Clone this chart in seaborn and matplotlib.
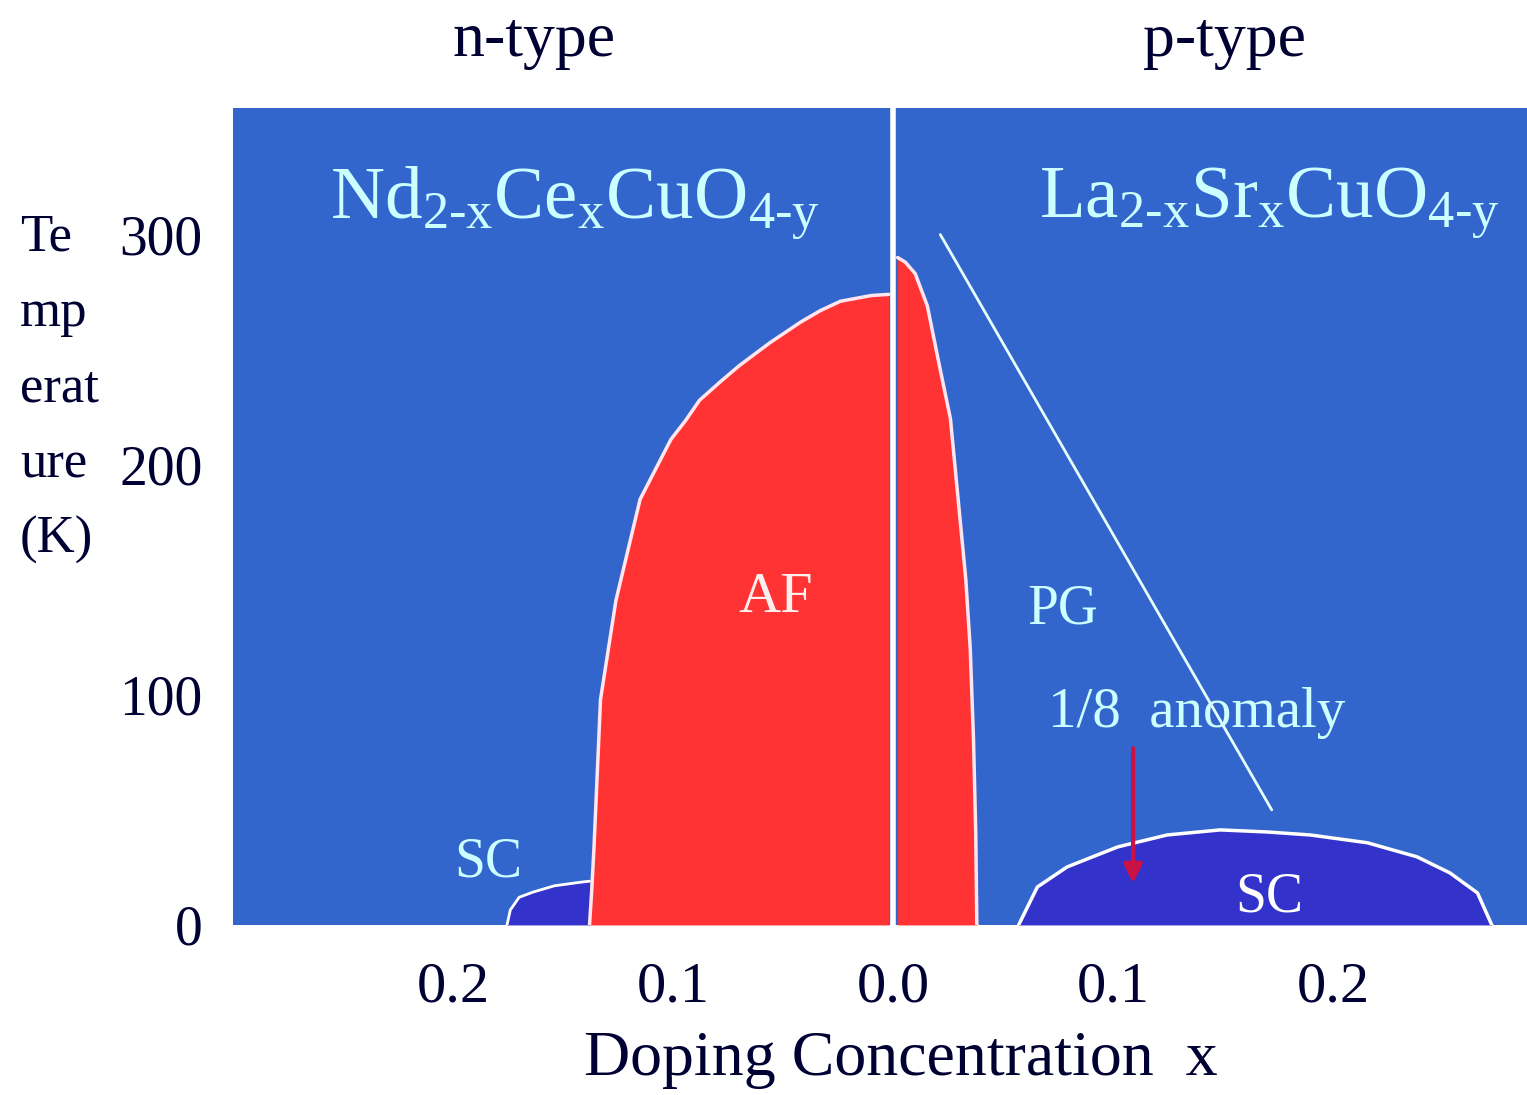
import numpy as np
import pandas as pd
import matplotlib
matplotlib.use("Agg")
import matplotlib.pyplot as plt
import seaborn as sns

# n-type side uses negative x, p-type side positive x
af_n_x = [-0.138, -0.137, -0.136, -0.133, -0.126, -0.115, -0.108, -0.101, -0.0945, -0.088,
          -0.0786, -0.070, -0.056, -0.042, -0.033, -0.024, -0.010, -0.002]
af_n_T = [0, 15, 33, 98, 141, 185, 198, 211, 219, 228,
          236, 243, 253, 262, 267, 271, 273.5, 274]

af_p_x = [0.002, 0.0055, 0.010, 0.0155, 0.021, 0.026, 0.030, 0.033, 0.035, 0.0365, 0.0375, 0.038]
af_p_T = [290, 288, 283, 269, 243, 220, 180, 150, 120, 80, 40, 0]

sc_n_x = [-0.1755, -0.174, -0.170, -0.1636, -0.154, -0.141, -0.138]
sc_n_T = [0, 6.5, 12, 14.3, 17, 18.7, 19]

sc_p_x = [0.057, 0.0655, 0.079, 0.102, 0.1245, 0.1486, 0.170, 0.1895, 0.2155, 0.238, 0.253, 0.2655, 0.272]
sc_p_T = [0, 16.5, 25.2, 33.9, 39.1, 41.3, 40.4, 39.1, 35.7, 29.6, 22.6, 13.9, 0]

pg_x = [0.0214, 0.172]
pg_T = [300, 50]

arrow_x = 0.109
arrow_T = [78, 17]

x_ticks = [-0.2, -0.1, 0.0, 0.1, 0.2]
x_ticklabels = ["0.2", "0.1", "0.0", "0.1", "0.2"]
y_ticks = [0, 100, 200, 300]

BLUE = "#3366cc"
RED = "#ff3333"
DARK = "#3333cc"
CYAN = "#ccffff"
INK = "#000033"

sns.set_theme(style="white")
plt.rcParams["font.family"] = ["Liberation Serif", "DejaVu Serif"]
plt.rcParams["mathtext.fontset"] = "custom"
plt.rcParams["mathtext.rm"] = "Liberation Serif"
plt.rcParams["mathtext.it"] = "Liberation Serif"

fig = plt.figure(figsize=(15.27, 10.95), dpi=100)
ax = fig.add_axes([0.1526, 0.1553, 0.8474, 0.7461])
ax.set_facecolor(BLUE)

# superconducting domes
ax.fill_between(sc_n_x, sc_n_T, color=DARK, lw=0)
sns.lineplot(x=sc_n_x, y=sc_n_T, sort=False, color="white", lw=2, ax=ax)
ax.fill_between(sc_p_x, sc_p_T, color=DARK, lw=0)
sns.lineplot(x=sc_p_x, y=sc_p_T, sort=False, color="white", lw=2.5, ax=ax)

# antiferromagnetic regions
ax.fill_between(af_n_x, af_n_T, color=RED, lw=0)
sns.lineplot(x=af_n_x, y=af_n_T, sort=False, color="#ffe6ee", lw=2.5, ax=ax)
ax.fill_between(af_p_x, af_p_T, color=RED, lw=0)
sns.lineplot(x=af_p_x, y=af_p_T, sort=False, color="#ffe6ee", lw=2.5, ax=ax)

# divider at x = 0
ax.axvline(0, color="white", lw=4)

# pseudogap line
sns.lineplot(x=pg_x, y=pg_T, sort=False, color="#e6ffff", lw=2, ax=ax)

# 1/8 anomaly arrow
ax.annotate("", xy=(arrow_x, arrow_T[1]), xytext=(arrow_x, arrow_T[0]),
            arrowprops=dict(arrowstyle="-|>", color="#cc1144", lw=3,
                            mutation_scale=28))

ax.set_xlim(-0.300, 0.288)
ax.set_ylim(0, 355)
for s in ax.spines.values():
    s.set_visible(False)

ax.set_xticks(x_ticks)
ax.set_xticklabels(x_ticklabels)
ax.set_yticks(y_ticks)
ax.tick_params(axis="x", length=0, pad=26, labelsize=42, labelcolor=INK)
ax.tick_params(axis="y", length=0, pad=22, labelsize=40, labelcolor=INK)
ax.grid(False)

ax.text(-0.1445, 314, r"$\mathrm{Nd}_{\mathrm{2\text{-}x}}\mathrm{Ce}_{\mathrm{x}}\mathrm{CuO}_{\mathrm{4\text{-}y}}$",
        ha="center", va="center", fontsize=54, color=CYAN)
ax.text(0.171, 314, r"$\mathrm{La}_{\mathrm{2\text{-}x}}\mathrm{Sr}_{\mathrm{x}}\mathrm{CuO}_{\mathrm{4\text{-}y}}$",
        ha="center", va="center", fontsize=54, color=CYAN)
ax.text(-0.0536, 142, "AF", ha="center", va="center", fontsize=42, color="#ffeeee")
ax.text(0.077, 137, "PG", ha="center", va="center", fontsize=40, color=CYAN)
ax.text(0.138, 92, "1/8  anomaly", ha="center", va="center", fontsize=41, color=CYAN)
ax.text(-0.184, 27, "SC", ha="center", va="center", fontsize=40, color=CYAN)
ax.text(0.171, 12, "SC", ha="center", va="center", fontsize=40, color="white")

fig.text(0.350, 0.963, "n-type", ha="center", va="center", fontsize=46, color=INK)
fig.text(0.802, 0.963, "p-type", ha="center", va="center", fontsize=46, color=INK)
fig.text(0.013, 0.645, "Te\nmp\nerat\nure\n(K)", ha="left", va="center",
         fontsize=38, color=INK, linespacing=1.75)
fig.text(0.590, 0.032, "Doping Concentration  x", ha="center", va="center",
         fontsize=46, color=INK)

fig.savefig("out.png", dpi=100, facecolor="white")
